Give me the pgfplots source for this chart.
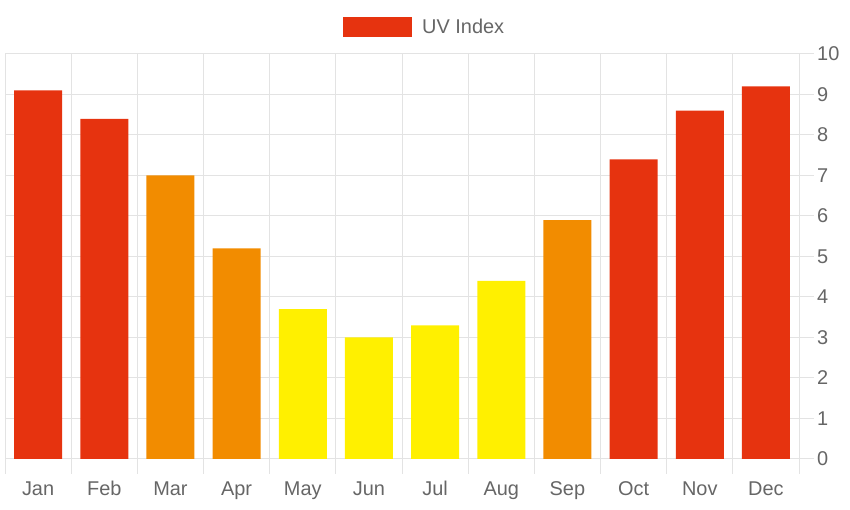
\documentclass[border=0pt]{standalone}
\usepackage{pgfplots}
\pgfplotsset{compat=1.18}
\usepackage{fontspec}
\setmainfont{Liberation Sans}
\definecolor{uvred}{HTML}{E6330F}
\definecolor{uvorange}{HTML}{F28C00}
\definecolor{uvyellow}{HTML}{FFF000}
\definecolor{txt}{HTML}{666666}
\definecolor{gridc}{HTML}{E3E3E3}
\definecolor{zeroc}{HTML}{BDBDBD}
\begin{document}
\begin{tikzpicture}[x=1bp,y=1bp]
\useasboundingbox (0,0) rectangle (850,510);
\begin{axis}[
  at={(5bp,51bp)}, anchor=south west,
  scale only axis, width=794bp, height=405bp,
  xmin=-0.5, xmax=11.5, ymin=0, ymax=10,
  ybar, bar width=48bp, bar shift=0pt,
  /pgf/number format/assume math mode=true,
  xtick={0,...,11},
  xticklabels={Jan,Feb,Mar,Apr,May,Jun,Jul,Aug,Sep,Oct,Nov,Dec},
  major x tick style={draw=none},
  minor xtick={-0.5,0.5,...,11.5},
  xminorgrids, minor x grid style={gridc, line width=1bp},
  minor x tick style={gridc, line width=1bp},
  ytick={0,...,10},
  ymajorgrids, major y grid style={gridc, line width=1bp},
  y tick style={gridc, line width=1bp},
  yticklabel pos=right,
  xtick pos=bottom, ytick pos=right,
  tick align=outside,
  major tick length=15bp, minor tick length=15bp,
  axis line style={gridc, line width=1bp},
  extra y ticks={0},
  extra y tick labels={},
  extra y tick style={grid=major, major grid style={zeroc, line width=1bp}, tick style={zeroc, line width=1bp}},
  ticklabel style={font=\fontsize{20}{24}\selectfont, text=txt, inner sep=0pt},
  xticklabel style={anchor=base, yshift=-22bp},
  yticklabel style={anchor=west, xshift=3bp},
  clip=false,
]
\addplot[fill=uvred, draw=none] coordinates {(0,9.1) (1,8.4) (9,7.4) (10,8.6) (11,9.2)};
\addplot[fill=uvorange, draw=none] coordinates {(2,7.0) (3,5.2) (8,5.9)};
\addplot[fill=uvyellow, draw=none] coordinates {(4,3.7) (5,3.0) (6,3.3) (7,4.4)};
\end{axis}
\fill[uvred] (343,473) rectangle (412,493);
\node[anchor=base west, inner sep=0pt, text=txt, font=\fontsize{20}{24}\selectfont] at (422,476) {UV Index};
\end{tikzpicture}
\end{document}
